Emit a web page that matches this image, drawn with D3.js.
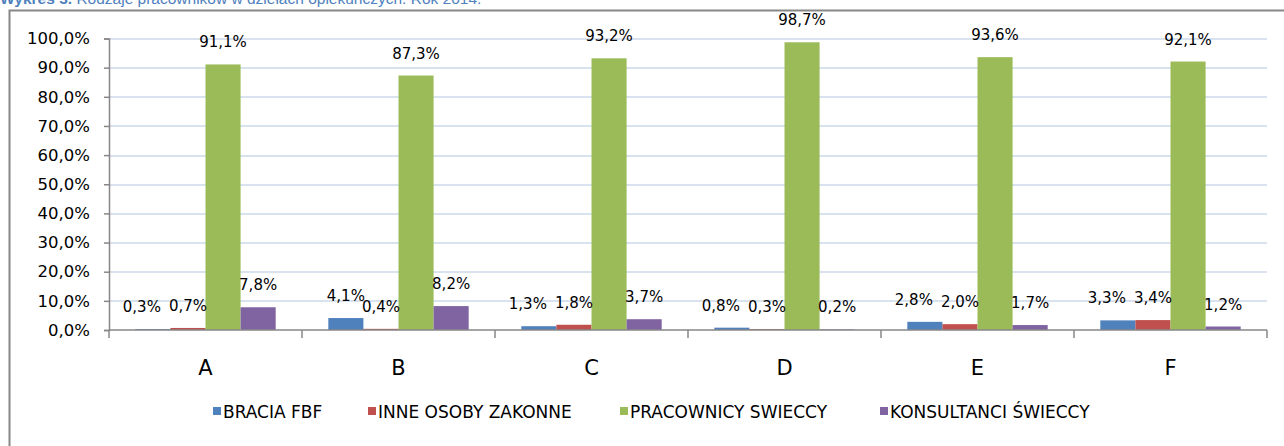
<!DOCTYPE html>
<html>
<head>
<meta charset="utf-8">
<script src="https://cdn.jsdelivr.net/npm/d3@7"></script>
<style>
  body { margin: 0; background: #fff; }
  svg { display: block; font-family: "DejaVu Sans", sans-serif; }
</style>
</head>
<body>
<div id="chart"></div>
<script>
// data (percent)
var categories = ["A", "B", "C", "D", "E", "F"];
var seriesNames = ["BRACIA FBF", "INNE OSOBY ZAKONNE", "PRACOWNICY SWIECCY", "KONSULTANCI ŚWIECCY"];
var bracia    = [0.3, 4.1, 1.3, 0.8, 2.8, 3.3];
var inne      = [0.7, 0.4, 1.8, 0.3, 2.0, 3.4];
var pracownicy = [91.1, 87.3, 93.2, 98.7, 93.6, 92.1];
var konsultanci = [7.8, 8.2, 3.7, 0.2, 1.7, 1.2];
var yTicks = [0, 10, 20, 30, 40, 50, 60, 70, 80, 90, 100];
var colors = ["#4F81BD", "#C0504D", "#9BBB59", "#8064A2"];

var W = 1284, H = 446;
var margin = {top: 38.5, left: 109, right: 17, bottom: 116};
var width = W - margin.left - margin.right,
    height = H - margin.top - margin.bottom;

var seriesValues = [bracia, inne, pracownicy, konsultanci];
var rows = categories.map(function(c, i) {
  return {cat: c, vals: seriesValues.map(function(s, k) { return {k: k, v: s[i]}; })};
});

var fmt = function(v) { return d3.format(".1f")(v).replace(".", ",") + "%"; };

var svg = d3.select("#chart").append("svg")
    .attr("width", W)
    .attr("height", H);

// title (cut at the top edge, as in the source)
var title = svg.append("text")
    .attr("x", 0)
    .attr("y", 4)
    .attr("fill", "#4F81BD")
    .style("font-family", "'Liberation Sans', Arial, sans-serif")
    .style("font-size", "15.5px");
title.append("tspan").attr("font-weight", "bold").text("Wykres 3.");
title.append("tspan").text(" Rodzaje pracowników w dziełach opiekuńczych. Rok 2014.");

// frame
svg.append("path")
    .attr("d", "M9.5," + H + "V10.5H" + W)
    .attr("fill", "none")
    .attr("stroke", "#878787")
    .attr("stroke-width", 2);

var g = svg.append("g")
    .attr("transform", "translate(" + margin.left + "," + margin.top + ")");

var x0 = d3.scaleBand().domain(categories).range([0, width]).padding(0);
var x1 = d3.scaleBand().domain([0, 1, 2, 3]).range([0, x0.bandwidth()])
    .paddingInner(0).paddingOuter(0.75);
var y = d3.scaleLinear().domain([0, 100]).range([height, 0]);

// gridlines
g.append("g").selectAll("line")
    .data(yTicks.slice(1))
  .enter().append("line")
    .attr("x1", 0).attr("x2", width)
    .attr("y1", function(d) { return Math.round(y(d)) + 0.5; })
    .attr("y2", function(d) { return Math.round(y(d)) + 0.5; })
    .attr("stroke", "#D9E2EF")
    .attr("stroke-width", 2);

// y axis
var yAxis = g.append("g")
    .call(d3.axisLeft(y).tickValues(yTicks).tickSize(5).tickPadding(14)
      .tickFormat(function(d) { return d3.format(".1f")(d).replace(".", ",") + "%"; }));
yAxis.select(".domain").attr("stroke", "#878787").attr("stroke-width", 1.5);
yAxis.selectAll(".tick line").attr("stroke", "#878787").attr("stroke-width", 1.5);
yAxis.selectAll(".tick text")
    .attr("fill", "#000")
    .style("font-size", "16.5px")
    .style("font-family", "'DejaVu Sans', sans-serif");

// bars
var groups = g.selectAll(".grp")
    .data(rows)
  .enter().append("g")
    .attr("class", "grp")
    .attr("transform", function(d) { return "translate(" + x0(d.cat) + ",0)"; });

groups.selectAll("rect")
    .data(function(d) { return d.vals; })
  .enter().append("rect")
    .attr("x", function(d) { return x1(d.k); })
    .attr("width", x1.bandwidth())
    .attr("y", function(d) { return y(d.v); })
    .attr("height", function(d) { return height - y(d.v); })
    .attr("fill", function(d) { return colors[d.k]; });

groups.each(function() {
  var labels = d3.select(this).selectAll(".lbl")
      .data(function(d) { return d.vals; })
    .enter().append("text")
      .attr("class", "lbl")
      .attr("x", function(d) { return x1(d.k) + x1.bandwidth() / 2; })
      .attr("y", function(d) { return y(d.v) - 17; })
      .attr("text-anchor", "middle")
      .style("font-size", "15px")
      .text(function(d) { return fmt(d.v); });

  // nudge the first label left when it collides with its neighbour
  var nodes = labels.nodes();
  var a = nodes[0], b = nodes[1];
  var ay = +a.getAttribute("y"), by = +b.getAttribute("y");
  if (Math.abs(ay - by) < 10) {
    var ax = +a.getAttribute("x"), bx = +b.getAttribute("x");
    var aRight = ax + a.getComputedTextLength() / 2;
    var bLeft = bx - b.getComputedTextLength() / 2;
    if (aRight > bLeft - 8) {
      a.setAttribute("x", ax - (aRight - bLeft + 8));
    }
  }
});

// x axis
var xAxis = g.append("g")
    .attr("transform", "translate(0," + height + ")");
xAxis.append("line")
    .attr("x1", 0).attr("x2", width)
    .attr("stroke", "#878787").attr("stroke-width", 1.5);
xAxis.selectAll(".tk")
    .data(categories.concat(["end"]))
  .enter().append("line")
    .attr("class", "tk")
    .attr("x1", function(d, i) { return i * x0.step(); })
    .attr("x2", function(d, i) { return i * x0.step(); })
    .attr("y1", 0).attr("y2", 8)
    .attr("stroke", "#878787").attr("stroke-width", 1.5);
xAxis.selectAll(".cat")
    .data(categories)
  .enter().append("text")
    .attr("class", "cat")
    .attr("x", function(d) { return x0(d) + x0.bandwidth() / 2; })
    .attr("y", 45)
    .attr("text-anchor", "middle")
    .style("font-size", "21px")
    .text(function(d) { return d; });

// legend
var legendX = [213, 368, 620, 880];
var legend = svg.append("g").attr("transform", "translate(0,412)");
var items = legend.selectAll("g")
    .data(seriesNames)
  .enter().append("g")
    .attr("transform", function(d, i) { return "translate(" + legendX[i] + ",0)"; });
items.append("rect")
    .attr("x", 0).attr("y", -5)
    .attr("width", 8).attr("height", 8)
    .attr("fill", function(d, i) { return colors[i]; });
items.append("text")
    .attr("x", 10)
    .attr("y", 5.5)
    .style("font-size", "17px")
    .text(function(d) { return d; });
</script>
</body>
</html>
